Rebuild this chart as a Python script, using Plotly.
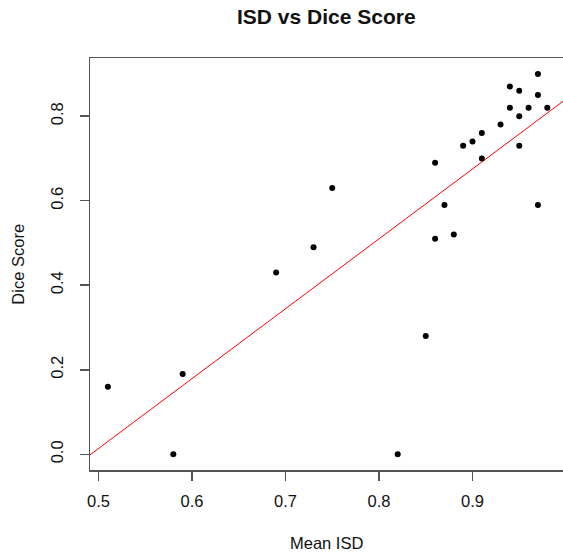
import numpy as np
import plotly.graph_objects as go

mean_isd = [0.51, 0.58, 0.59, 0.69, 0.73, 0.75, 0.82, 0.85, 0.86, 0.86, 0.87, 0.88, 0.89, 0.90,
            0.91, 0.91, 0.93, 0.94, 0.94, 0.95, 0.95, 0.95, 0.96, 0.97, 0.97, 0.97, 0.98]
dice = [0.16, 0.00, 0.19, 0.43, 0.49, 0.63, 0.00, 0.28, 0.51, 0.69, 0.59, 0.52, 0.73, 0.74,
        0.76, 0.70, 0.78, 0.87, 0.82, 0.86, 0.80, 0.73, 0.82, 0.90, 0.85, 0.59, 0.82]
x_ticks = [0.5, 0.6, 0.7, 0.8, 0.9]
y_ticks = [0.0, 0.2, 0.4, 0.6, 0.8]

slope, intercept = np.polyfit(mean_isd, dice, 1)
line_x = [0.3, 1.2]
line_y = [intercept + slope * v for v in line_x]

FONT = "Liberation Sans, Arial, sans-serif"
AX = "#555555"

fig = go.Figure()
fig.add_trace(go.Scatter(x=line_x, y=line_y, mode="lines",
                         line=dict(color="#ff0000", width=1), hoverinfo="skip"))
fig.add_trace(go.Scatter(x=mean_isd, y=dice, mode="markers",
                         marker=dict(color="black", size=6)))

fig.update_layout(
    width=563, height=556,
    margin=dict(l=90, r=0, t=58, b=86),
    paper_bgcolor="white", plot_bgcolor="white",
    showlegend=False,
    font=dict(family=FONT, size=16.5, color="#111111"),
    xaxis=dict(range=[0.4909, 0.9968], tickvals=x_ticks, ticktext=[f"{v:.1f}" for v in x_ticks],
               showgrid=False, zeroline=False, showline=True, mirror=True,
               linecolor=AX, linewidth=1.5, ticks="outside", ticklen=9, tickcolor=AX,
               tickwidth=1.5, ticklabelstandoff=7),
    yaxis=dict(range=[-0.0371, 0.9376], tickvals=y_ticks, ticktext=[f"{v:.1f}" for v in y_ticks],
               showgrid=False, zeroline=False, showline=True, mirror=False,
               linecolor=AX, linewidth=1.5, ticks="outside", ticklen=9, tickcolor=AX,
               tickwidth=1.5, tickangle=-90, ticklabelstandoff=10),
    annotations=[
        dict(text="<b>ISD vs Dice Score</b>", xref="paper", yref="paper", x=0.5, y=1.101,
             xanchor="center", yanchor="middle", showarrow=False, font=dict(size=21)),
        dict(text="Mean ISD", xref="paper", yref="paper", x=0.5, y=-0.177,
             xanchor="center", yanchor="middle", showarrow=False),
        dict(text="Dice Score", xref="paper", yref="paper", x=-0.153, y=0.5,
             xanchor="center", yanchor="middle", textangle=-90, showarrow=False),
    ],
)

fig.write_html("out.html", config={"displayModeBar": False, "staticPlot": True})
with open("out.html", encoding="utf-8") as f:
    html = f.read()
html = html.replace("<body>", '<body style="margin:0;padding:0;overflow:hidden">', 1)
with open("out.html", "w", encoding="utf-8") as f:
    f.write(html)
